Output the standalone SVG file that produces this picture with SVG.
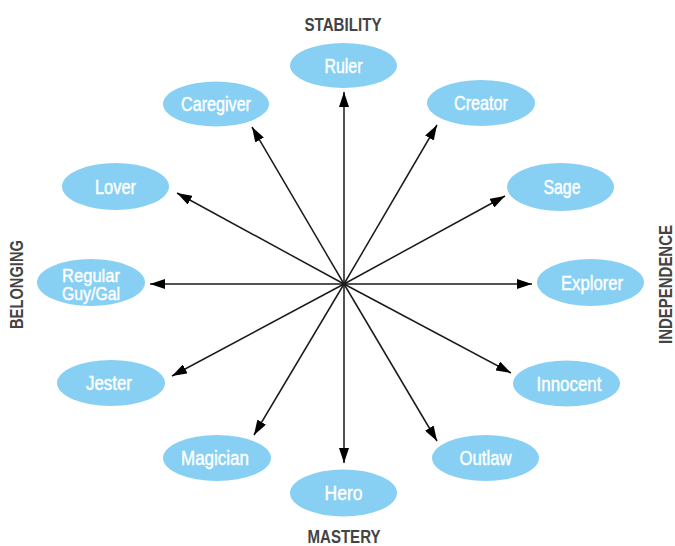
<svg xmlns="http://www.w3.org/2000/svg" width="675" height="546" viewBox="0 0 675 546">
  <defs>
    <marker id="arrow" viewBox="0 0 15 10" refX="15" refY="5" markerWidth="15" markerHeight="10" markerUnits="userSpaceOnUse" orient="auto">
      <path d="M0,0 L15,5 L0,10 Z" fill="#000"/>
    </marker>
  </defs>
  <style>
    .node ellipse { fill: #87d0f4; }
    .node text { fill: #ffffff; stroke: #ffffff; stroke-width: 0.45; font-family: "Liberation Sans", Arial, sans-serif; font-size: 20px; text-anchor: middle; }
    .node text.two { font-size: 19px; }
    .axis { fill: #444444; font-family: "Liberation Sans", Arial, sans-serif; font-weight: bold; font-size: 19px; text-anchor: middle; }
    #connectors line { stroke: #1a1a1a; stroke-width: 1.5; marker-end: url(#arrow); }
  </style>
  <rect width="675" height="546" fill="#ffffff"/>

  <!-- axis labels -->
  <text class="axis" x="343" y="31" textLength="77" lengthAdjust="spacingAndGlyphs">STABILITY</text>
  <text class="axis" x="344" y="543" textLength="73" lengthAdjust="spacingAndGlyphs">MASTERY</text>
  <text class="axis" transform="translate(23,284.5) rotate(-90)" textLength="89" lengthAdjust="spacingAndGlyphs">BELONGING</text>
  <text class="axis" transform="translate(672,284.5) rotate(-90)" textLength="119" lengthAdjust="spacingAndGlyphs">INDEPENDENCE</text>

  <!-- spokes from the hub -->
  <g id="connectors">
    <line x1="344" y1="284" x2="344" y2="92"/>
    <line x1="344" y1="284" x2="252" y2="127"/>
    <line x1="344" y1="284" x2="437" y2="125"/>
    <line x1="344" y1="284" x2="177" y2="193"/>
    <line x1="344" y1="284" x2="505" y2="196"/>
    <line x1="344" y1="284" x2="150" y2="284"/>
    <line x1="344" y1="284" x2="532" y2="284"/>
    <line x1="344" y1="284" x2="172" y2="376"/>
    <line x1="344" y1="284" x2="511" y2="373"/>
    <line x1="344" y1="284" x2="254" y2="435"/>
    <line x1="344" y1="284" x2="437" y2="441"/>
    <line x1="344" y1="284" x2="344" y2="463"/>
  </g>

  <!-- archetype nodes -->
  <g id="ruler" class="node">
    <ellipse cx="343.5" cy="65.5" rx="53.5" ry="22.5"/>
    <text x="343.5" y="72.5" textLength="38" lengthAdjust="spacingAndGlyphs">Ruler</text>
  </g>
  <g id="caregiver" class="node">
    <ellipse cx="216" cy="104" rx="53" ry="22.5"/>
    <text x="216" y="111" textLength="70" lengthAdjust="spacingAndGlyphs">Caregiver</text>
  </g>
  <g id="creator" class="node">
    <ellipse cx="481" cy="103" rx="54" ry="23"/>
    <text x="481" y="110" textLength="54" lengthAdjust="spacingAndGlyphs">Creator</text>
  </g>
  <g id="lover" class="node">
    <ellipse cx="115.5" cy="186.5" rx="53.5" ry="23.5"/>
    <text x="115.5" y="193.5" textLength="41" lengthAdjust="spacingAndGlyphs">Lover</text>
  </g>
  <g id="sage" class="node">
    <ellipse cx="560.5" cy="187" rx="53.5" ry="24"/>
    <text x="562" y="194" textLength="37" lengthAdjust="spacingAndGlyphs">Sage</text>
  </g>
  <g id="regular-guy-gal" class="node">
    <ellipse cx="91" cy="282.5" rx="54" ry="23.5"/>
    <text class="two" x="91" y="281.5" textLength="58" lengthAdjust="spacingAndGlyphs">Regular</text>
    <text class="two" x="91" y="300" textLength="58" lengthAdjust="spacingAndGlyphs">Guy/Gal</text>
  </g>
  <g id="explorer" class="node">
    <ellipse cx="590.5" cy="282.5" rx="53.5" ry="23.5"/>
    <text x="592" y="289.5" textLength="62" lengthAdjust="spacingAndGlyphs">Explorer</text>
  </g>
  <g id="jester" class="node">
    <ellipse cx="111" cy="383" rx="54" ry="23"/>
    <text x="109" y="390" textLength="46" lengthAdjust="spacingAndGlyphs">Jester</text>
  </g>
  <g id="innocent" class="node">
    <ellipse cx="566.5" cy="383.5" rx="53.5" ry="23"/>
    <text x="569" y="390.5" textLength="65" lengthAdjust="spacingAndGlyphs">Innocent</text>
  </g>
  <g id="magician" class="node">
    <ellipse cx="217" cy="458" rx="54" ry="23"/>
    <text x="215" y="465" textLength="68" lengthAdjust="spacingAndGlyphs">Magician</text>
  </g>
  <g id="outlaw" class="node">
    <ellipse cx="485.5" cy="458" rx="53.5" ry="23"/>
    <text x="485.5" y="465" textLength="52" lengthAdjust="spacingAndGlyphs">Outlaw</text>
  </g>
  <g id="hero" class="node">
    <ellipse cx="343.5" cy="493" rx="53.5" ry="23.5"/>
    <text x="343.5" y="500" textLength="38" lengthAdjust="spacingAndGlyphs">Hero</text>
  </g>
</svg>
